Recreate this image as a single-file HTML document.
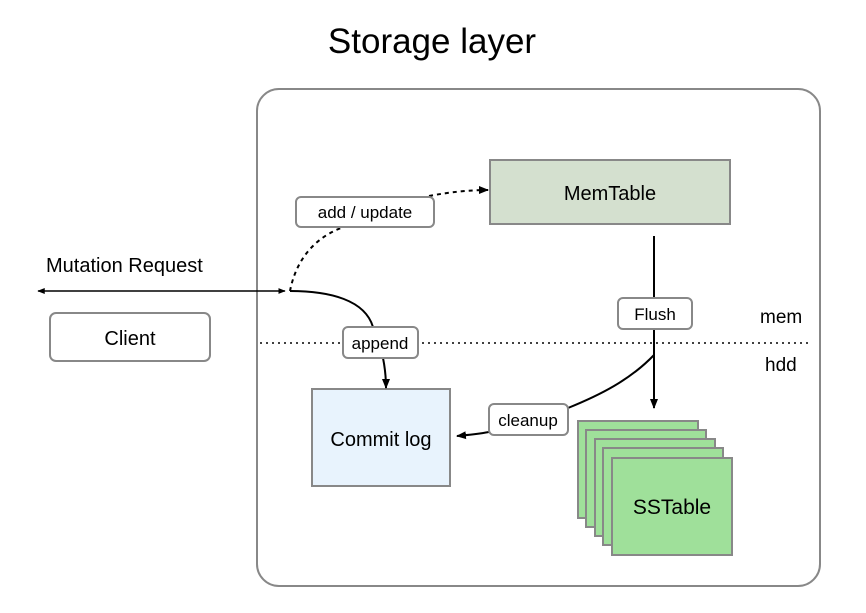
<!DOCTYPE html>
<html><head><style>
body{margin:0;background:#fff;width:866px;height:608px;overflow:hidden;font-family:"Liberation Sans",sans-serif}
</style></head><body>
<svg width="866" height="608" xmlns="http://www.w3.org/2000/svg" font-family="Liberation Sans, sans-serif">
<defs>
<marker id="a" viewBox="0 0 10 10" refX="9" refY="5" markerWidth="5" markerHeight="5" orient="auto-start-reverse"><path d="M0,1L10,5L0,9z" fill="#000"/></marker>
</defs>
<text x="432" y="53" font-size="35" text-anchor="middle">Storage layer</text>
<rect x="257" y="89" width="563" height="497" rx="22" fill="#fff" stroke="#888" stroke-width="2"/>
<line x1="260" y1="343" x2="812" y2="343" stroke="#000" stroke-width="1.5" stroke-dasharray="2,4"/>
<text x="760" y="323" font-size="19">mem</text>
<text x="765" y="371" font-size="19">hdd</text>
<rect x="490" y="160" width="240" height="64" fill="#d4e0cf" stroke="#888" stroke-width="2"/>
<text x="610" y="200" font-size="20" text-anchor="middle">MemTable</text>
<rect x="312" y="389" width="138" height="97" fill="#e8f3fd" stroke="#888" stroke-width="2"/>
<text x="381" y="446" font-size="20" text-anchor="middle">Commit log</text>
<rect x="50" y="313" width="160" height="48" rx="6" fill="#fff" stroke="#888" stroke-width="2"/>
<text x="130" y="345" font-size="20" text-anchor="middle">Client</text>
<text x="46" y="272" font-size="20">Mutation Request</text>
<line x1="38" y1="291" x2="285" y2="291" stroke="#000" stroke-width="1.5" marker-start="url(#a)" marker-end="url(#a)"/>
<path d="M290,291 C295,265 310,240 341,228" fill="none" stroke="#000" stroke-width="2" stroke-dasharray="4,4"/>
<path d="M429,196 C450,192 470,190 488,190" fill="none" stroke="#000" stroke-width="2" stroke-dasharray="4,4" marker-end="url(#a)"/>
<path d="M290,291 C330,291 365,300 373,327" fill="none" stroke="#000" stroke-width="2"/>
<path d="M383,358 C385,368 386,376 386,388" fill="none" stroke="#000" stroke-width="2" marker-end="url(#a)"/>
<line x1="654" y1="236" x2="654" y2="298" stroke="#000" stroke-width="2"/>
<line x1="654" y1="329" x2="654" y2="408" stroke="#000" stroke-width="2" marker-end="url(#a)"/>
<path d="M654,355 C630,380 600,395 568,408" fill="none" stroke="#000" stroke-width="2"/>
<path d="M489,432 C478,434 468,435 457,436" fill="none" stroke="#000" stroke-width="2" marker-end="url(#a)"/>
<rect x="578" y="421" width="120" height="97" fill="#9fe09a" stroke="#888" stroke-width="2"/>
<rect x="586" y="430" width="120" height="97" fill="#9fe09a" stroke="#888" stroke-width="2"/>
<rect x="595" y="439" width="120" height="97" fill="#9fe09a" stroke="#888" stroke-width="2"/>
<rect x="603" y="448" width="120" height="97" fill="#9fe09a" stroke="#888" stroke-width="2"/>
<rect x="612" y="458" width="120" height="97" fill="#9fe09a" stroke="#888" stroke-width="2"/>
<text x="672" y="514" font-size="21" text-anchor="middle">SSTable</text>
<rect x="296" y="197" width="138" height="30" rx="5" fill="#fff" stroke="#888" stroke-width="2"/>
<text x="365" y="218" font-size="17" text-anchor="middle">add / update</text>
<rect x="343" y="327" width="75" height="31" rx="5" fill="#fff" stroke="#888" stroke-width="2"/>
<text x="380" y="349" font-size="17" text-anchor="middle">append</text>
<rect x="618" y="298" width="74" height="31" rx="5" fill="#fff" stroke="#888" stroke-width="2"/>
<text x="655" y="320" font-size="17" text-anchor="middle">Flush</text>
<rect x="489" y="404" width="79" height="31" rx="5" fill="#fff" stroke="#888" stroke-width="2"/>
<text x="528" y="426" font-size="17" text-anchor="middle">cleanup</text>
</svg>
</body></html>
